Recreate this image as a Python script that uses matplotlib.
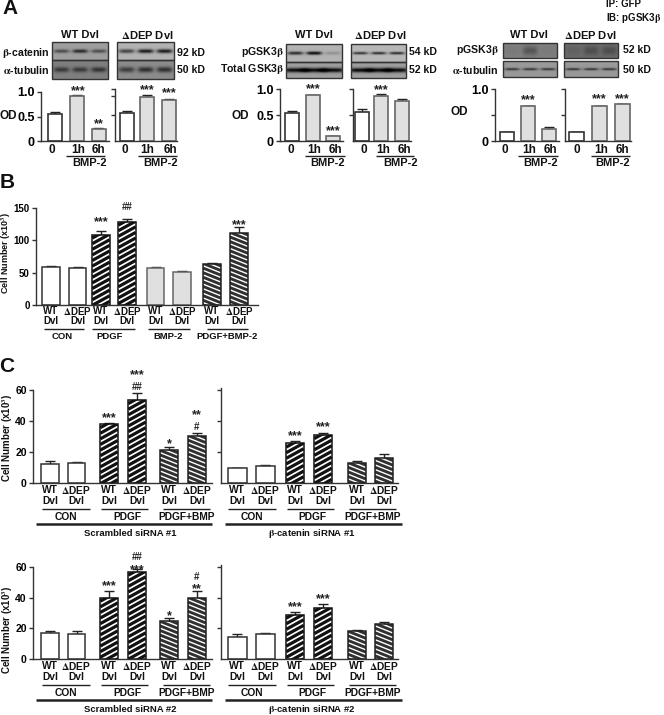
import numpy as np
import matplotlib
matplotlib.use('Agg')
import matplotlib.pyplot as plt
from matplotlib.patches import Rectangle

plt.rcParams['font.family'] = ['Liberation Sans', 'DejaVu Sans']
plt.rcParams['font.weight'] = 'bold'
plt.rcParams['mathtext.fontset'] = 'stix'

W, H = 664, 715

# panel A values
time_labels = ['0', '1h', '6h']
a1_vals = [0.55, 0.92, 0.25]
a1_errs = [0.04, 0.01, 0.02]
a2_vals = [0.57, 0.90, 0.83]
a2_errs = [0.05, 0.03, 0.03]
a3_vals = [0.54, 0.88, 0.10]
a3_errs = [0.04, 0.01, 0.00]
a4_vals = [0.56, 0.87, 0.77]
a4_errs = [0.05, 0.03, 0.03]
a5_vals = [0.17, 0.67, 0.23]
a5_errs = [0.01, 0.01, 0.04]
a6_vals = [0.17, 0.67, 0.71]
a6_errs = [0.01, 0.01, 0.01]

# panel B values
b_vals = [59, 57, 109, 129, 57, 51, 64, 112]
b_errs = [2, 1.5, 5, 4, 1.5, 2, 1.5, 8]

# panel C values
c1_vals = [12.5, 13, 38, 53.5, 21, 30.5]
c1_errs = [1.5, 0.5, 1, 4.5, 2, 1.5]
c2_vals = [9.5, 11, 25.5, 31, 13, 16]
c2_errs = [0.5, 0.5, 1.5, 1.5, 1, 2.5]
c3_vals = [17, 16.5, 40, 57, 24.5, 40]
c3_errs = [1.5, 2, 4.5, 1.5, 2, 4.5]
c4_vals = [14.5, 16, 29, 33.5, 18, 23]
c4_errs = [1.5, 1, 1.5, 2.5, 1, 1]

c_groups = ['CON', 'PDGF', 'PDGF+BMP']
b_groups = ['CON', 'PDGF', 'BMP-2', 'PDGF+BMP-2']

# band strength per lane on the blots
blot_bands = {
    'a1': ([.55, .8, .55], [.6, .6, .65], [.65, .9, .9], [.6, .7, .7]),
    'a2': ([.8, 1, .2], [1, 1, 1], [.75, .8, .8], [1, 1, 1]),
    'a3': ([.05, .35, .05], [.7, .7, .7], [.1, .3, .3], [.7, .7, .7]),
}

fig = plt.figure(figsize=(W / 100, H / 100), dpi=100)

# overlay in pixel coordinates, for labels and blots
ov = fig.add_axes([0, 0, 1, 1], zorder=5)
ov.patch.set_alpha(0)
ov.axis('off')
ov.set_xlim(0, W)
ov.set_ylim(H, 0)


def txt(x, y, s, size=7.2, ha='center', **kw):
    ov.text(x, y, s, fontsize=size, ha=ha, va='center', color='#111111', **kw)


def stars(x, y, s):
    # asterisks sit high in the font, so place by the baseline
    if '*' in s:
        ov.text(x, y + 5.5, s, fontsize=9, ha='center', va='baseline', color='#222222')
    else:
        ov.text(x, y + 3.5, s, fontsize=7, ha='center', va='baseline', color='#222222')


def stripes(ax, bar, color, lw, slope, pitch):
    x0, x1 = bar.get_x(), bar.get_x() + bar.get_width()
    p0 = ax.transData.transform((x0, 0))
    p1 = ax.transData.transform((x0, bar.get_height()))
    ytop, ybot = H - p1[1], H - p0[1]
    for c in np.arange(ytop - 30, ybot + 30, pitch):
        line, = ax.plot([x0, x1], [c, c + slope * (x1 - x0)], color=color, lw=lw,
                        transform=ov.transData, zorder=1.5, solid_capstyle='butt')
        line.set_clip_path(bar)


def chart(box, centers, widths, vals, errs, ymax, ticks, ticklabels, styles, size=8, lw=1.1):
    x0, x1, ytop, ybot = box
    ax = fig.add_axes([x0 / W, 1 - ybot / H, (x1 - x0) / W, (ybot - ytop) / H])
    ax.set_xlim(x0, x1)
    ax.set_ylim(0, ymax)
    ax.patch.set_alpha(0)
    for c, v, e, st, width in zip(centers, vals, errs, styles, widths):
        face, edge = {'w': ('white', '#333333'), 'g': ('#e0e0e0', '#666666'),
                      'h': ('white', '#111111'), 'd': ('#303030', '#222222')}[st]
        bar = ax.bar(c, v, width, color=face, zorder=1, linewidth=0)[0]
        if st == 'h':
            stripes(ax, bar, '#111111', 2.3, -0.55, 5.6)
        if st == 'd':
            stripes(ax, bar, 'white', 1.0, 0.4, 4.6)
        ax.bar(c, v, width, fill=False, edgecolor=edge, linewidth=lw, zorder=2)
        ax.errorbar(c, v, yerr=[[0], [e]], color='#222222', capsize=3.5, elinewidth=1,
                    capthick=1, zorder=0.5)
    ax.set_xlim(x0, x1)
    ax.set_ylim(0, ymax)
    for s in ['top', 'right']:
        ax.spines[s].set_visible(False)
    for s in ['left', 'bottom']:
        ax.spines[s].set_linewidth(1.0)
        ax.spines[s].set_color('#333333')
    ax.set_xticks([])
    ax.set_yticks(ticks)
    ax.set_yticklabels(ticklabels, fontsize=size, fontweight='bold')
    ax.tick_params(axis='y', length=3, width=1, pad=1.5, color='#333333')
    return ax


def blot(x0, x1, y0, y1, bg, bands, thick=2.0, spread=0.26):
    h, w = (y1 - y0) * 3, (x1 - x0) * 3
    yy, xx = np.mgrid[0:h, 0:w]
    yy = yy / 3.0
    xx = xx / 3.0
    img = np.full((h, w), float(bg))
    mid = (y1 - y0) / 2.0
    lane_w = (x1 - x0) / 3.0
    for i, b in enumerate(bands):
        cx = lane_w * (i + 0.5)
        prof = np.exp(-((xx - cx) / (lane_w * spread * 1.6)) ** 4)
        prof = prof * np.exp(-((yy - mid) / thick) ** 2)
        img -= b * (bg - 0.03) * prof
    ov.imshow(img, extent=(x0, x1, y1, y0), cmap='gray', vmin=0, vmax=1, aspect='auto',
              interpolation='bilinear', zorder=1)
    ov.add_patch(Rectangle((x0, y0), x1 - x0, y1 - y0, fill=False, ec='#333333', lw=1.0, zorder=2))


def hline(x0, x1, y, lw=1.0):
    ov.plot([x0, x1], [y, y], color='#222222', lw=lw, solid_capstyle='butt')


def a_chart_labels(centers, line, bmp_x):
    for c, s in zip(centers, time_labels):
        txt(c, 150, s, 8.5)
    hline(line[0], line[1], 156)
    txt(bmp_x, 163.5, 'BMP-2', 8)


# panel A, blots
wt = 'WT Dvl'
de = r'$\mathrm{\Delta}$DEP Dvl'
beta = r'$\mathrm{\beta}$'
alpha = r'$\mathrm{\alpha}$'
txt(10, 9, 'A', 15)
for x, lab in [(80, wt), (147, de), (314, wt), (380, de), (529, wt), (590, de)]:
    txt(x, 35, lab, 8)

b = blot_bands['a1']
blot(52, 108, 42, 60, .62, b[0], 1.8)
blot(52, 108, 60, 79, .50, b[1], 2.6)
blot(117, 174, 42, 60, .70, b[2], 2.0)
blot(117, 174, 60, 79, .55, b[3], 2.8)
txt(50, 53, beta + '-catenin', 7.6, ha='right')
txt(50, 69.5, alpha + '-tubulin', 7.6, ha='right')
txt(177, 53, '92 kD', 7.6, ha='left')
txt(177, 70, '50 kD', 7.6, ha='left')

b = blot_bands['a2']
blot(286, 342, 44, 62, .70, b[0], 1.6)
blot(286, 342, 62, 78, .62, b[1], 2.2, 0.4)
blot(351, 406, 44, 62, .72, b[2], 1.3)
blot(351, 406, 62, 78, .62, b[3], 2.2, 0.4)
txt(284, 52, 'pGSK3' + beta, 7.6, ha='right')
txt(284, 69.5, 'Total GSK3' + beta, 7.6, ha='right')
txt(409, 52, '54 kD', 7.6, ha='left')
txt(409, 70, '52 kD', 7.6, ha='left')

b = blot_bands['a3']
blot(503, 557, 43, 58, .50, b[0], 4.5)
blot(503, 557, 61, 77, .60, b[1], 1.2)
blot(564, 618, 43, 58, .42, b[2], 4.5)
blot(564, 618, 61, 77, .60, b[3], 1.2)
txt(499, 50, 'pGSK3' + beta, 7.6, ha='right')
txt(499, 70, alpha + '-tubulin', 7.6, ha='right')
txt(623, 50, '52 kD', 7.6, ha='left')
txt(623, 70, '50 kD', 7.6, ha='left')
txt(606, 4, 'IP: GFP', 7, ha='left')
txt(606, 18, 'IB: pGSK3' + beta, 7, ha='left')

# panel A, bars
a_st = ['w', 'g', 'g']
lab = ['0', '0.5', '1.0']
w14 = [14, 14, 14]
c = [54.5, 77, 98.5]
chart((41, 109, 92, 141), c, w14, a1_vals, a1_errs, 1.0, [0, .5, 1], lab, a_st, 9, 1.2)
a_chart_labels([52, 78, 98], (66, 105), 90)
c = [126.5, 147, 169]
chart((115, 177, 89, 141), c, w14, a2_vals, a2_errs, 1.06, [.53, .92, 1.06], ['', '', ''], a_st, 9, 1.2)
a_chart_labels([125, 147, 170], (138, 177), 161)
c = [292, 313, 333]
chart((280, 343, 89, 141), c, w14, a3_vals, a3_errs, 1.0, [0, .5, 1], lab, a_st, 9, 1.2)
a_chart_labels([291, 314, 335], (305, 345), 328)
c = [362, 381.5, 402]
chart((353, 411, 89, 141), c, w14, a4_vals, a4_errs, 1.0, [.5, 1], ['', ''], a_st, 9, 1.2)
a_chart_labels([364, 383, 404], (376, 414), 401)
c = [507, 528, 549]
chart((495, 559, 89, 141), c, w14, a5_vals, a5_errs, 1.0, [0, .5, 1], ['0', '', '1.0'], a_st, 9, 1.2)
a_chart_labels([505, 529, 550], (518, 558), 541)
c = [576.5, 599.5, 622]
chart((565, 631, 89, 141), c, [15, 15, 15], a6_vals, a6_errs, 1.0, [.5, 1], ['', ''], a_st, 9, 1.2)
a_chart_labels([577, 601, 622], (591, 630), 613)

txt(8.5, 116, 'OD', 8.5)
txt(240, 116, 'OD', 8.5)
txt(459, 112, 'OD', 8.5)
for x, y, s in [(78, 89, '***'), (99, 122, '**'), (147, 88, '***'), (169, 91, '***'),
                (313, 87, '***'), (333, 129, '***'), (381, 88, '***'),
                (528, 98, '***'), (599, 97, '***'), (622, 97, '***')]:
    stars(x, y, s)

# panel B
txt(7, 183, 'B', 15)
b_c = [51, 77.5, 101, 127, 155.5, 182, 212, 239]
b_st = ['w', 'w', 'h', 'h', 'g', 'g', 'd', 'd']
chart((36, 258, 208, 305), b_c, [17.5] * 8, b_vals, b_errs, 150, [0, 50, 100, 150],
      ['0', '50', '100', '150'], b_st, 7)
for i, x in enumerate(b_c):
    txt(x, 311, 'WT' if i % 2 == 0 else r'$\mathrm{\Delta}$DEP', 7)
    txt(x, 321, 'Dvl', 7)
for (x0, x1), g, x in zip([(44, 84), (92, 135), (148, 190), (207, 248)], b_groups, [62, 110, 168, 227]):
    hline(x0, x1, 329)
    txt(x, 336.5, g, 6.8)
txt(6, 253, r'Cell Number (x10$^3$)', 6.5, rotation=90)
stars(101, 220, '***')
stars(127, 207, '##')
stars(239, 223, '***')

# panel C
txt(7, 366, 'C', 15)
left_c = [50, 76.5, 109, 137, 169, 197]
right_c = [237, 265, 295, 323, 357, 384]
left_w = [17.5] * 6
right_w = [19, 19, 17.5, 17.5, 17.5, 17.5]
c_st = ['w', 'w', 'h', 'h', 'd', 'd']
c_lab = ['0', '20', '40', '60']


def c_row(ytop, ybot, lv, le, rv, re, offs, tag):
    chart((33, 212, ytop, ybot), left_c, left_w, lv, le, 60, [0, 20, 40, 60], c_lab, c_st, 7.5)
    chart((221, 398, ytop - 2, ybot), right_c, right_w, rv, re, 61.3,
          [20, 40, 60], ['', '', ''], c_st, 7.5)
    for centers in (left_c, right_c):
        for i, x in enumerate(centers):
            txt(x, ybot + offs[0], 'WT' if i % 2 == 0 else r'$\mathrm{\Delta}$DEP', 7.4)
            txt(x, ybot + offs[1], 'Dvl', 7.4)
    spans = [(42, 90), (101, 148), (163, 210), (228, 276), (287, 334), (349, 396)]
    mids = [66, 127, 187, 252, 312, 373]
    for (x0, x1), x, g in zip(spans, mids, c_groups * 2):
        hline(x0, x1, ybot + offs[2])
        txt(x, ybot + offs[3], g, 7.4)
    hline(36, 212, ybot + offs[4], 1.8)
    hline(225, 402, ybot + offs[4], 1.8)
    txt(130, ybot + offs[5], 'Scrambled siRNA #' + tag, 6.8)
    txt(312, ybot + offs[5], beta + '-catenin siRNA #' + tag, 6.8)


offs = (7, 18, 26, 34, 41, 50)
c_row(390, 483, c1_vals, c1_errs, c2_vals, c2_errs, offs, '1')
c_row(567, 659, c3_vals, c3_errs, c4_vals, c4_errs, offs, '2')
txt(8, 438, r'Cell Number (x10$^3$)', 7, rotation=90)
txt(8, 630, r'Cell Number (x10$^3$)', 7, rotation=90)

for x, y, s in [(137, 373, '***'), (137, 387, '##'), (109, 416, '***'), (169, 442, '*'),
                (197, 413, '**'), (197, 426, '#'), (295, 434, '***'), (323, 425, '***'),
                (137, 556, '##'), (137, 568, '***'), (109, 584, '***'), (169, 614, '*'),
                (197, 576, '#'), (197, 587, '**'), (295, 605, '***'), (323, 597, '***')]:
    stars(x, y, s)

ov.set_xlim(0, W)
ov.set_ylim(H, 0)
fig.savefig('out.png', dpi=100)
